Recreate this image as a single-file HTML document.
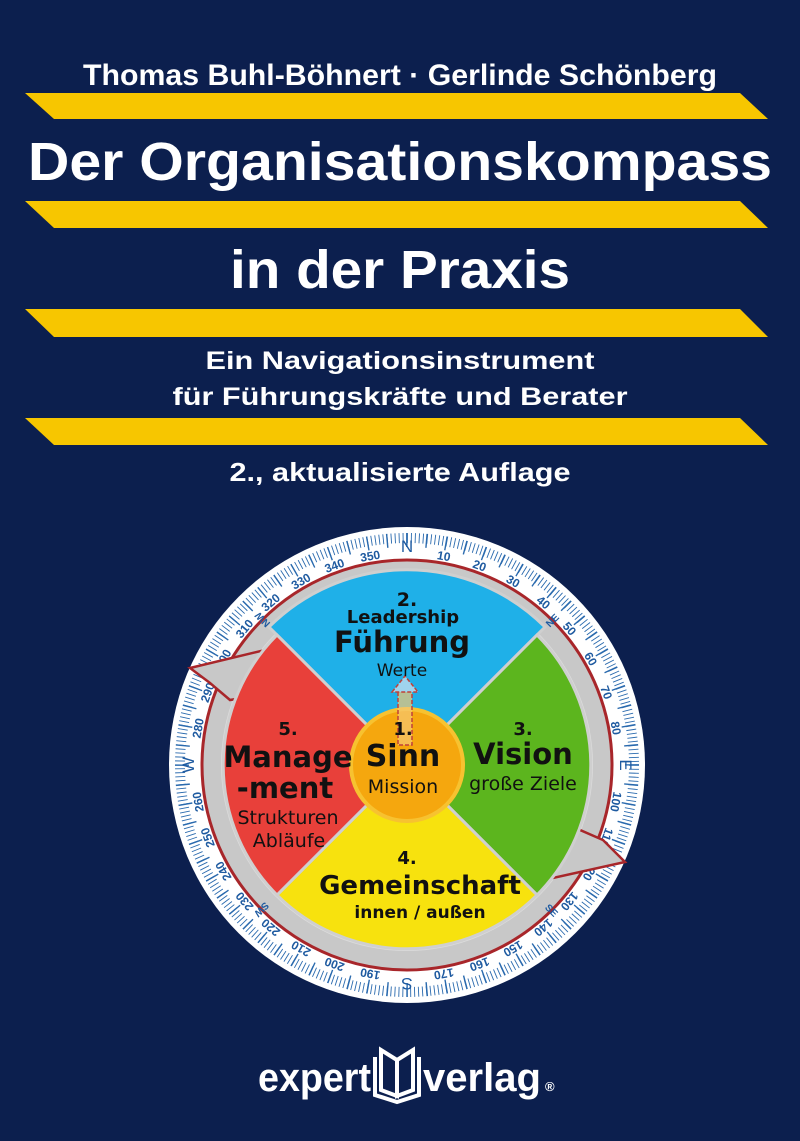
<!DOCTYPE html>
<html><head><meta charset="utf-8"><style>
html,body{margin:0;padding:0;background:#0c1f4e;}
svg{display:block}
.ls{font-family:"Liberation Sans",Arial,sans-serif}
.dv{font-family:"DejaVu Sans",sans-serif}
</style></head><body>
<svg width="800" height="1141" viewBox="0 0 800 1141" xmlns="http://www.w3.org/2000/svg" class="ls">
<rect width="800" height="1141" fill="#0c1f4e"/>
<g fill="#f7c600">
<polygon points="25,93 740,93 768,119 54,119"/>
<polygon points="25,201 740,201 768,228 54,228"/>
<polygon points="25,309 740,309 768,337 54,337"/>
<polygon points="25,418 740,418 768,445 54,445"/>
</g>
<g fill="#fff" font-weight="bold" text-anchor="middle" class="ls">
<text x="400" y="85" font-size="30" textLength="634" lengthAdjust="spacingAndGlyphs">Thomas Buhl-Böhnert · Gerlinde Schönberg</text>
<text x="400" y="180" font-size="54" textLength="744" lengthAdjust="spacingAndGlyphs">Der Organisationskompass</text>
<text x="400" y="288" font-size="54" textLength="340" lengthAdjust="spacingAndGlyphs">in der Praxis</text>
<text x="400" y="369" font-size="25" textLength="389" lengthAdjust="spacingAndGlyphs">Ein Navigationsinstrument</text>
<text x="400" y="405" font-size="25" textLength="455" lengthAdjust="spacingAndGlyphs">für Führungskräfte und Berater</text>
<text x="400" y="481" font-size="26" textLength="341" lengthAdjust="spacingAndGlyphs">2., aktualisierte Auflage</text>
</g>
<g transform="translate(407,765)">
<circle r="238" fill="#fff"/>
<circle r="227" fill="none" stroke="#2a6aae" stroke-width="10" stroke-dasharray="0.9 3.06" transform="rotate(-90)"/>
<circle r="225" fill="none" stroke="#2a6aae" stroke-width="14" stroke-dasharray="1.4 18.23" transform="rotate(-90.2)"/>
<circle r="205" fill="#c8c8c8" stroke="#a8262a" stroke-width="3"/>
<circle r="186" fill="#dcdcdc"/>
<g fill="#1e5aa0" font-size="12" font-weight="bold" text-anchor="middle">
<text transform="rotate(10) translate(0,-208)">10</text>
<text transform="rotate(20) translate(0,-208)">20</text>
<text transform="rotate(30) translate(0,-208)">30</text>
<text transform="rotate(40) translate(0,-208)">40</text>
<text transform="rotate(50) translate(0,-208)">50</text>
<text transform="rotate(60) translate(0,-208)">60</text>
<text transform="rotate(70) translate(0,-208)">70</text>
<text transform="rotate(80) translate(0,-208)">80</text>
<text transform="rotate(100) translate(0,-208)">100</text>
<text transform="rotate(110) translate(0,-208)">110</text>
<text transform="rotate(120) translate(0,-208)">120</text>
<text transform="rotate(130) translate(0,-208)">130</text>
<text transform="rotate(140) translate(0,-208)">140</text>
<text transform="rotate(150) translate(0,-208)">150</text>
<text transform="rotate(160) translate(0,-208)">160</text>
<text transform="rotate(170) translate(0,-208)">170</text>
<text transform="rotate(190) translate(0,-208)">190</text>
<text transform="rotate(200) translate(0,-208)">200</text>
<text transform="rotate(210) translate(0,-208)">210</text>
<text transform="rotate(220) translate(0,-208)">220</text>
<text transform="rotate(230) translate(0,-208)">230</text>
<text transform="rotate(240) translate(0,-208)">240</text>
<text transform="rotate(250) translate(0,-208)">250</text>
<text transform="rotate(260) translate(0,-208)">260</text>
<text transform="rotate(280) translate(0,-208)">280</text>
<text transform="rotate(290) translate(0,-208)">290</text>
<text transform="rotate(300) translate(0,-208)">300</text>
<text transform="rotate(310) translate(0,-208)">310</text>
<text transform="rotate(320) translate(0,-208)">320</text>
<text transform="rotate(330) translate(0,-208)">330</text>
<text transform="rotate(340) translate(0,-208)">340</text>
<text transform="rotate(350) translate(0,-208)">350</text>
<text transform="rotate(45) translate(4,-205) rotate(-90)" font-size="10">NE</text>
<text transform="rotate(135) translate(4,-205) rotate(-90)" font-size="10">SE</text>
<text transform="rotate(225) translate(4,-205) rotate(-90)" font-size="10">SW</text>
<text transform="rotate(315) translate(4,-205) rotate(-90)" font-size="10">NW</text>
<g font-size="17" font-weight="normal">
<text transform="rotate(0) translate(0,-213)">N</text>
<text transform="rotate(90) translate(0,-213)">E</text>
<text transform="rotate(180) translate(0,-213)">S</text>
<text transform="rotate(270) translate(0,-213)">W</text>
</g>
</g>
</g>
<polygon points="190,668 265,650 290,690 230,700 210,683" fill="#c8c8c8" stroke="#a8262a" stroke-width="2.5"/>
<polygon points="625,862 553,878 535,845 580,830 603,840" fill="#c8c8c8" stroke="#a8262a" stroke-width="2.5"/>
<g transform="translate(407,765)" stroke="#cfcfcf" stroke-width="3">
<path d="M0,0 L-138,-138 A195,195 0 0 1 138,-138 Z" fill="#1fb0e8"/>
<path d="M0,0 L130,-130 A184,184 0 0 1 130,130 Z" fill="#5cb51e"/>
<path d="M0,0 L130,130 A184,184 0 0 1 -130,130 Z" fill="#f7e20e"/>
<path d="M0,0 L-130,130 A184,184 0 0 1 -130,-130 Z" fill="#e8403a"/>
<circle r="56" fill="#f5a70e" stroke="#f7c230" stroke-width="4"/>
</g>
<rect x="398" y="690" width="14" height="55" fill="#f6c872" fill-opacity="0.7" stroke="#c0413a" stroke-width="1.5" stroke-dasharray="4 2"/>
<polygon points="392,692 405,676 418,692" fill="#9fd4ee" stroke="#c0413a" stroke-width="1.5" stroke-dasharray="4 2"/>
<g text-anchor="middle" fill="#111" class="dv">
<text x="407" y="606" font-size="19" font-weight="bold">2.</text>
<text x="403" y="623" font-size="18" font-weight="bold">Leadership</text>
<text x="402" y="652" font-size="29" font-weight="bold">Führung</text>
<text x="402" y="676" font-size="17">Werte</text>
<text x="403" y="735" font-size="18" font-weight="bold">1.</text>
<text x="403" y="766" font-size="30" font-weight="bold">Sinn</text>
<text x="403" y="793" font-size="19">Mission</text>
<text x="523" y="735" font-size="18" font-weight="bold">3.</text>
<text x="523" y="764" font-size="29" font-weight="bold">Vision</text>
<text x="523" y="790" font-size="19">große Ziele</text>
<text x="288" y="735" font-size="18" font-weight="bold">5.</text>
<text x="288" y="767" font-size="29" font-weight="bold">Manage</text>
<text x="285" y="798" font-size="29" font-weight="bold">-ment</text>
<text x="288" y="824" font-size="19">Strukturen</text>
<text x="289" y="847" font-size="19">Abläufe</text>
<text x="407" y="864" font-size="18" font-weight="bold">4.</text>
<text x="420" y="894" font-size="26" font-weight="bold">Gemeinschaft</text>
<text x="420" y="918" font-size="17" font-weight="bold">innen / außen</text>
</g>
<g fill="#fff" font-weight="bold" class="ls">
<text x="258" y="1091" font-size="40" textLength="113" lengthAdjust="spacingAndGlyphs">expert</text>
<text x="423" y="1091" font-size="40" textLength="118" lengthAdjust="spacingAndGlyphs">verlag</text>
<text x="545" y="1091" font-size="13">®</text>
</g>
<g fill="none" stroke="#fff" stroke-width="4">
<path d="M375,1057 L375,1095 L397,1102 L419,1095 L419,1057"/>
<path d="M381,1050 L381,1090 L397,1096 L397,1060 Z"/>
<path d="M413,1050 L413,1090 L397,1096 L397,1060 Z"/>
</g>
</svg>
</body></html>
